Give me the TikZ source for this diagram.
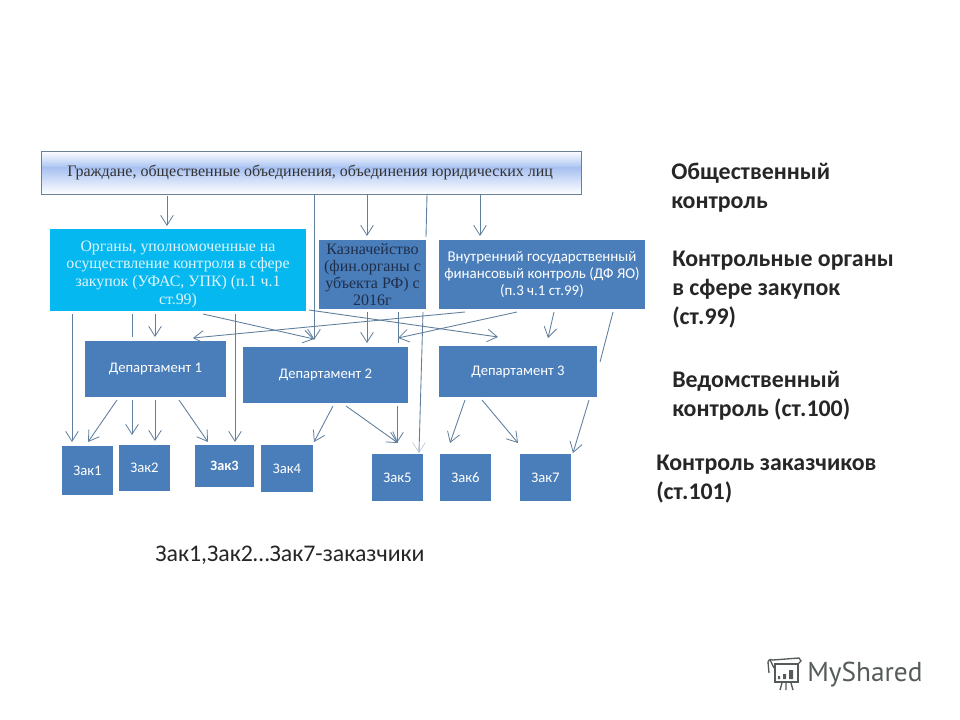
\documentclass[tikz,border=0pt]{standalone}
\usepackage{fontspec}
\setmainfont{Liberation Serif}
\newfontfamily\lab{Carlito}
\newfontfamily\wm{PT Sans}
\usetikzlibrary{arrows.meta,calc}
\definecolor{boxblue}{HTML}{4A7EBB}
\definecolor{cyanbox}{HTML}{05B9F0}
\definecolor{linec}{HTML}{5F7F9C}
\definecolor{edgec}{HTML}{6C8094}
\definecolor{topblue}{HTML}{A9C2F2}
\definecolor{wmc}{HTML}{555B5B}
\definecolor{kazntext}{HTML}{1F2E4A}
\tikzset{
  x=0.75pt,y=-0.75pt,
  plain/.style={anchor=north west,inner sep=0pt,outer sep=0pt,align=center},
  bluebox/.style={plain,fill=boxblue,text=white,font=\lab\fontsize{11}{13}\selectfont},
  conn/.style={draw=linec,line width=0.65pt},
  arr/.style={conn,-{Straight Barb[length=7.5pt,width=9.5pt,line width=0.6pt]}},
  side/.style={anchor=north west,inner sep=0pt,align=left,text=black!85,font=\lab\bfseries\fontsize{17.9}{21.8}\selectfont},
}
\begin{document}
\begin{tikzpicture}
\useasboundingbox (0,0) rectangle (960,720);
\fill[white] (0,0) rectangle (960,720);
% top box with gradient
\fill[top color=white,bottom color=topblue] (41,151) rectangle (581,168);
\fill[top color=topblue,bottom color=white] (41,168) rectangle (581,194);
\node[plain,draw=edgec,line width=0.7pt,minimum width=405pt,minimum height=32.25pt] (top) at (41,151) {};
\node[anchor=west,inner sep=0pt,font=\fontsize{12}{14}\selectfont,text=black!80] (toptext) at (67,172) {Граждане, общественные объединения, объединения юридических лиц};
% second row
\node[plain,fill=cyanbox,text=white!88!cyan,minimum width=192pt,minimum height=61.5pt,font=\fontsize{11.9}{13.2}\selectfont] (organs) at (50,229) {\rule{0pt}{14pt}Органы, уполномоченные на\\осуществление контроля в сфере\\закупок (УФАС, УПК) (п.1 ч.1\\ст.99)};
\node[plain,fill=boxblue,text=kazntext,minimum width=80.25pt,minimum height=51.75pt,font=\fontsize{12}{12.8}\selectfont] (kazn) at (319,240) {Казначейство\\(фин.органы с\\убъекта РФ) с\\2016г};
\node[bluebox,minimum width=154.5pt,minimum height=51.75pt,font=\lab\fontsize{11.2}{12.8}\selectfont] (vnutr) at (439,240) {Внутренний государственный\\финансовый контроль (ДФ ЯО)\\(п.3 ч.1 ст.99)};
% departments
\node[bluebox,minimum width=105.75pt,minimum height=42pt] (dep1) at (85,341) {Департамент 1};
\node[bluebox,minimum width=123.75pt,minimum height=42pt] (dep2) at (243,347) {Департамент 2};
\node[bluebox,minimum width=118.5pt,minimum height=38.25pt] (dep3) at (439,346) {Департамент 3};
% customers
\node[bluebox,minimum width=38.25pt,minimum height=36.75pt] (z1) at (62,446) {Зак1};
\node[bluebox,minimum width=38.25pt,minimum height=34.5pt] (z2) at (119,445) {Зак2};
\node[bluebox,minimum width=44.25pt,minimum height=31.5pt,font=\lab\bfseries\fontsize{10.7}{12}\selectfont] (z3) at (195,445) {Зак3};
\node[bluebox,minimum width=39pt,minimum height=35.25pt] (z4) at (261,445) {Зак4};
\node[bluebox,minimum width=38.25pt,minimum height=35.25pt] (z5) at (372,454) {Зак5};
\node[bluebox,minimum width=38.25pt,minimum height=35.25pt] (z6) at (440,454) {Зак6};
\node[bluebox,minimum width=38.25pt,minimum height=35.25pt] (z7) at (520,454) {Зак7};
% side labels
\node[side] (l1) at (671,163) {Общественный\\контроль};
\node[side] (l2) at (672,251) {Контрольные органы\\в сфере закупок\\(ст.99)};
\node[side] (l3) at (672,371) {Ведомственный\\контроль (ст.100)};
\node[side] (l4) at (656,455) {Контроль заказчиков\\(ст.101)};
\node[anchor=west,inner sep=0pt,text=black!85,font=\lab\fontsize{17.9}{20}\selectfont] (note) at (155,555) {Зак1,Зак2…Зак7-заказчики};
% connectors: top box
\draw[arr] ($(top.south west)+(126,2)$) -- ($(organs.north west)+(117,-3)$);
\draw[arr] ($(top.south west)+(273,0)$) -- ($(dep2.north west)+(71,-7)$);
\draw[arr] ($(top.south west)+(326,0)$) -- ($(kazn.north west)+(48,-4)$);
\draw[conn] ($(top.south west)+(386,0)$) -- ($(kazn.north west)+(107,-3)$);
\draw[arr] ($(top.south west)+(439,0)$) -- ($(vnutr.north west)+(41,-4)$);
% connectors: organs
\draw[arr] ($(organs.south west)+(22,3)$) -- ($(z1.north west)+(10,-4)$);
\draw[conn] ($(organs.south west)+(82,3)$) -- ($(dep1.north west)+(47,-4)$);
\draw[arr] ($(organs.south west)+(105,3)$) -- ($(dep1.north west)+(70,-4)$);
\draw[arr] ($(organs.south west)+(185,3)$) -- ($(z3.north west)+(40,-3)$);
\draw[arr] ($(organs.south west)+(153,3)$) -- ($(dep2.north west)+(71,-8)$);
\draw[arr] ($(organs.south east)+(3,-1)$) -- ($(dep3.north west)+(59,-9)$);
% connectors: kazn
\draw[arr] ($(kazn.south west)+(48,3)$) -- ($(dep2.north west)+(124,-4)$);
\draw[conn] ($(kazn.south west)+(104,3)$) -- ($(z5.north east)+(-4,-2)$);
\draw[-{Straight Barb[length=7.5pt,width=9.5pt,line width=0.4pt]},draw=linec!50,line width=0.6pt] ($(z5.north east)+(-4,-12)$) -- ($(z5.north east)+(-4,-1)$);
\draw[conn] ($(kazn.south west)+(79,3)$) -- ($(dep2.north west)+(155,-4)$);
% connectors: vnutr
\draw[arr] ($(vnutr.south west)+(78,3)$) -- ($(kazn.south west)+(79,29)$);
\draw[arr] ($(vnutr.south west)+(26,3)$) -- ($(dep1.north east)+(-33,-3)$);
\draw[arr] ($(vnutr.south west)+(115,3)$) -- ($(dep3.north west)+(109,-8)$);
\draw[conn] ($(vnutr.south east)+(-32,3)$) -- ($(dep3.north east)+(3,16)$);
% connectors: departments
\draw[arr] ($(dep1.south west)+(32,3)$) -- ($(z1.north west)+(26,-4)$);
\draw[arr] ($(dep1.south west)+(47,3)$) -- ($(z2.north west)+(13,-10)$);
\draw[arr] ($(dep1.south west)+(70,3)$) -- ($(z2.north west)+(36,-4)$);
\draw[arr] ($(dep1.south west)+(94,3)$) -- ($(z3.north west)+(13,-3)$);
\draw[arr] ($(dep2.south west)+(90,3)$) -- ($(z4.north west)+(53,-3)$);
\draw[arr] ($(dep2.south west)+(103,3)$) -- ($(z5.north west)+(26,-11)$);
\draw[arr] ($(dep2.south east)+(-11,3)$) -- ($(z5.north west)+(25,-11)$);
\draw[arr] ($(dep3.south west)+(26,3)$) -- ($(z6.north west)+(10,-11)$);
\draw[arr] ($(dep3.south west)+(43,3)$) -- ($(z7.north west)+(-2,-11)$);
\draw[arr] ($(dep3.south east)+(-8,3)$) -- ($(z7.north east)+(2,-1)$);
% watermark
\node[anchor=west,inner sep=0pt,text=wmc,font=\wm\fontsize{20.5}{22}\selectfont] (mark) at (807,675) {MyShared};
\begin{scope}[draw=wmc,line width=1pt]
\draw (769,673) -- (768,662) .. controls (769,659) and (771,659) .. (773,660) -- (799,658) -- (801,661) -- (798,664) -- (775,664);
\draw (770,660) -- (774,668);
\draw (775,664) rectangle (798,682);
\draw (782,683) -- (780,690) (786,683) -- (786,690) (791,683) -- (793,690);
\fill[wmc] (778,676) rectangle (780,679) (783,674) rectangle (786,679) (789,670) rectangle (793,679);
\end{scope}
\end{tikzpicture}
\end{document}
